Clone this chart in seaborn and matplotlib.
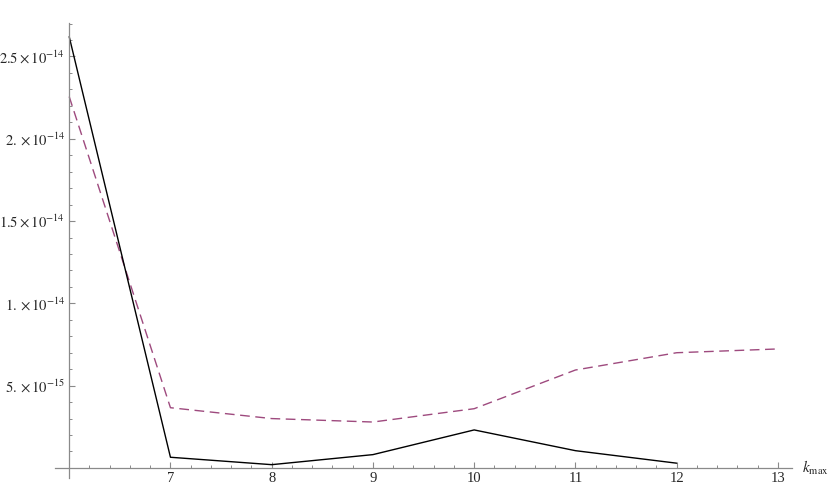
import numpy as np
import pandas as pd
import matplotlib
matplotlib.use('Agg')
import matplotlib.pyplot as plt
import seaborn as sns
from matplotlib.ticker import FixedLocator, MultipleLocator

# values
k_solid = [6, 7, 8, 9, 10, 11, 12]
err_solid = [2.62e-14, 0.65e-15, 0.20e-15, 0.81e-15, 2.31e-15, 1.05e-15, 0.29e-15]
k_dashed = [6, 7, 8, 9, 10, 11, 12, 13]
err_dashed = [2.256e-14, 3.66e-15, 3.00e-15, 2.79e-15, 3.60e-15, 5.95e-15, 7.00e-15, 7.23e-15]

x_ticks = [7, 8, 9, 10, 11, 12, 13]
y_ticks = [5e-15, 1e-14, 1.5e-14, 2e-14, 2.5e-14]
y_ticklabels = [r'$5.\times10^{-15}$', r'$1.\times10^{-14}$', r'$1.5\times10^{-14}$',
                r'$2.\times10^{-14}$', r'$2.5\times10^{-14}$']

sns.set_style('white')
plt.rcParams['font.family'] = ['Liberation Serif', 'DejaVu Serif']
plt.rcParams['mathtext.fontset'] = 'stix'

df_solid = pd.DataFrame({'k': k_solid, 'err': err_solid})
df_dashed = pd.DataFrame({'k': k_dashed, 'err': err_dashed})

fig = plt.figure(figsize=(8.3, 4.88), dpi=100)
ax = fig.add_axes([0.0663, 0.0205, 0.888, 0.933])

sns.lineplot(x='k', y='err', data=df_dashed, ax=ax, color='#9e4a7e', linewidth=1.0,
             dashes=False, linestyle=(0, (7, 4)))
sns.lineplot(x='k', y='err', data=df_solid, ax=ax, color='black', linewidth=1.0)

ax.set_xlim(5.86, 13.14)
ax.set_ylim(-0.61e-15, 2.705e-14)

axis_gray = '#8a8a8a'
for side in ['top', 'right']:
    ax.spines[side].set_visible(False)
ax.spines['left'].set_position(('data', 6))
ax.spines['bottom'].set_position(('data', 0))
for side in ['left', 'bottom']:
    ax.spines[side].set_color(axis_gray)
    ax.spines[side].set_linewidth(0.9)

ax.xaxis.set_major_locator(FixedLocator(x_ticks))
ax.xaxis.set_minor_locator(MultipleLocator(0.2))
ax.yaxis.set_major_locator(FixedLocator(y_ticks))
ax.yaxis.set_minor_locator(MultipleLocator(1e-15))
ax.set_yticklabels(y_ticklabels)

ax.tick_params(axis='both', which='major', direction='in', length=4.5, width=0.8,
               color=axis_gray, labelsize=10.5, pad=3)
ax.tick_params(axis='both', which='minor', direction='in', length=2.5, width=0.7,
               color=axis_gray)
ax.tick_params(axis='x', which='both', bottom=True)
ax.tick_params(axis='y', which='both', left=True)

ax.set_xlabel('')
ax.set_ylabel('')
ax.annotate(r'$k_{\mathrm{max}}$', xy=(1, 0), xycoords=('axes fraction', 'data'),
            xytext=(7, 0), textcoords='offset points', ha='left', va='center', fontsize=11)

fig.savefig('out.png', dpi=100)
